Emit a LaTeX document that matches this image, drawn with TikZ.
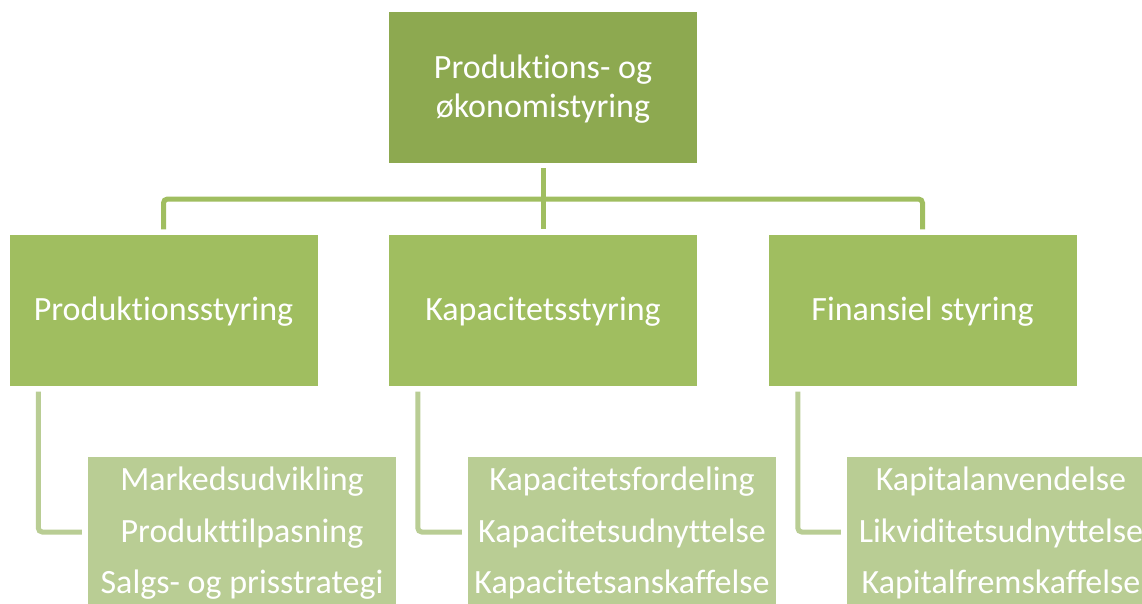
\documentclass[tikz,border=0pt]{standalone}
\usepackage{fontspec}
\setmainfont{Carlito}[RawFeature=-liga]
\definecolor{topgreen}{RGB}{141,169,80}
\definecolor{midgreen}{RGB}{160,190,96}
\definecolor{lowgreen}{RGB}{185,205,148}
\tikzset{
  boxbase/.style={rectangle, inner sep=0pt, minimum width=308pt, minimum height=151pt},
  topbox/.style={boxbase, fill=topgreen},
  midbox/.style={boxbase, fill=midgreen},
  lowbox/.style={boxbase, fill=lowgreen, minimum height=150pt},
  lbl/.style={text=white, font=\fontsize{34}{39}\selectfont, inner sep=0pt, anchor=base},
  connup/.style={draw=midgreen, line width=5pt},
  connlow/.style={draw=lowgreen, line width=5pt, rounded corners=4pt},
}
\begin{document}
\begin{tikzpicture}[x=1pt,y=-1pt]
\useasboundingbox (0,0) rectangle (1142,603);
\clip (0,0) rectangle (1142,603);
\fill[white] (0,0) rectangle (1142,603);
% boxes
\node[topbox] (top) at (543,87.5) {};
\node[midbox] (l2a) at (163.5,310) {};
\node[midbox] (l2b) at (543,310) {};
\node[midbox] (l2c) at (922.5,310) {};
\node[lowbox] (l3a) at (242,532) {};
\node[lowbox] (l3b) at (622,532) {};
\node[lowbox] (l3c) at (1001,532) {};
% labels
\node[lbl] (t0a) at (543,78) {Produktions- og};
\node[lbl] (t0b) at (543,117) {økonomistyring};
\node[lbl] (t2a) at (163.5,320) {Produktionsstyring};
\node[lbl] (t2b) at (543,320) {Kapacitetsstyring};
\node[lbl] (t2c) at (922.5,320) {Finansiel styring};
\node[lbl] (t3a1) at (242,490) {Markedsudvikling};
\node[lbl] (t3a2) at (242,542) {Produkttilpasning};
\node[lbl] (t3a3) at (242,593) {Salgs- og prisstrategi};
\node[lbl] (t3b1) at (622,490) {Kapacitetsfordeling};
\node[lbl] (t3b2) at (622,542) {Kapacitetsudnyttelse};
\node[lbl] (t3b3) at (622,593) {Kapacitetsanskaffelse};
\node[lbl] (t3c1) at (1001,490) {Kapitalanvendelse};
\node[lbl] (t3c2) at (1001,542) {Likviditetsudnyttelse};
\node[lbl] (t3c3) at (1001,593) {Kapitalfremskaffelse};
% upper connectors
\coordinate (hub) at (543,199);
\draw[connup, shorten <=5pt, shorten >=5pt] (top.south) -- (l2b.north);
\draw[connup, rounded corners=4pt, shorten <=5pt, shorten >=5pt]
  (l2a.north) -- (l2a.north |- hub) -- (l2c.north |- hub) -- (l2c.north);
% lower connectors
\draw[connlow, shorten <=6pt, shorten >=6pt] ([xshift=29pt]l2a.south west) |- (l3a.west);
\draw[connlow, shorten <=6pt, shorten >=6pt] ([xshift=29pt]l2b.south west) |- (l3b.west);
\draw[connlow, shorten <=6pt, shorten >=6pt] ([xshift=29.5pt]l2c.south west) |- (l3c.west);
\end{tikzpicture}
\end{document}
